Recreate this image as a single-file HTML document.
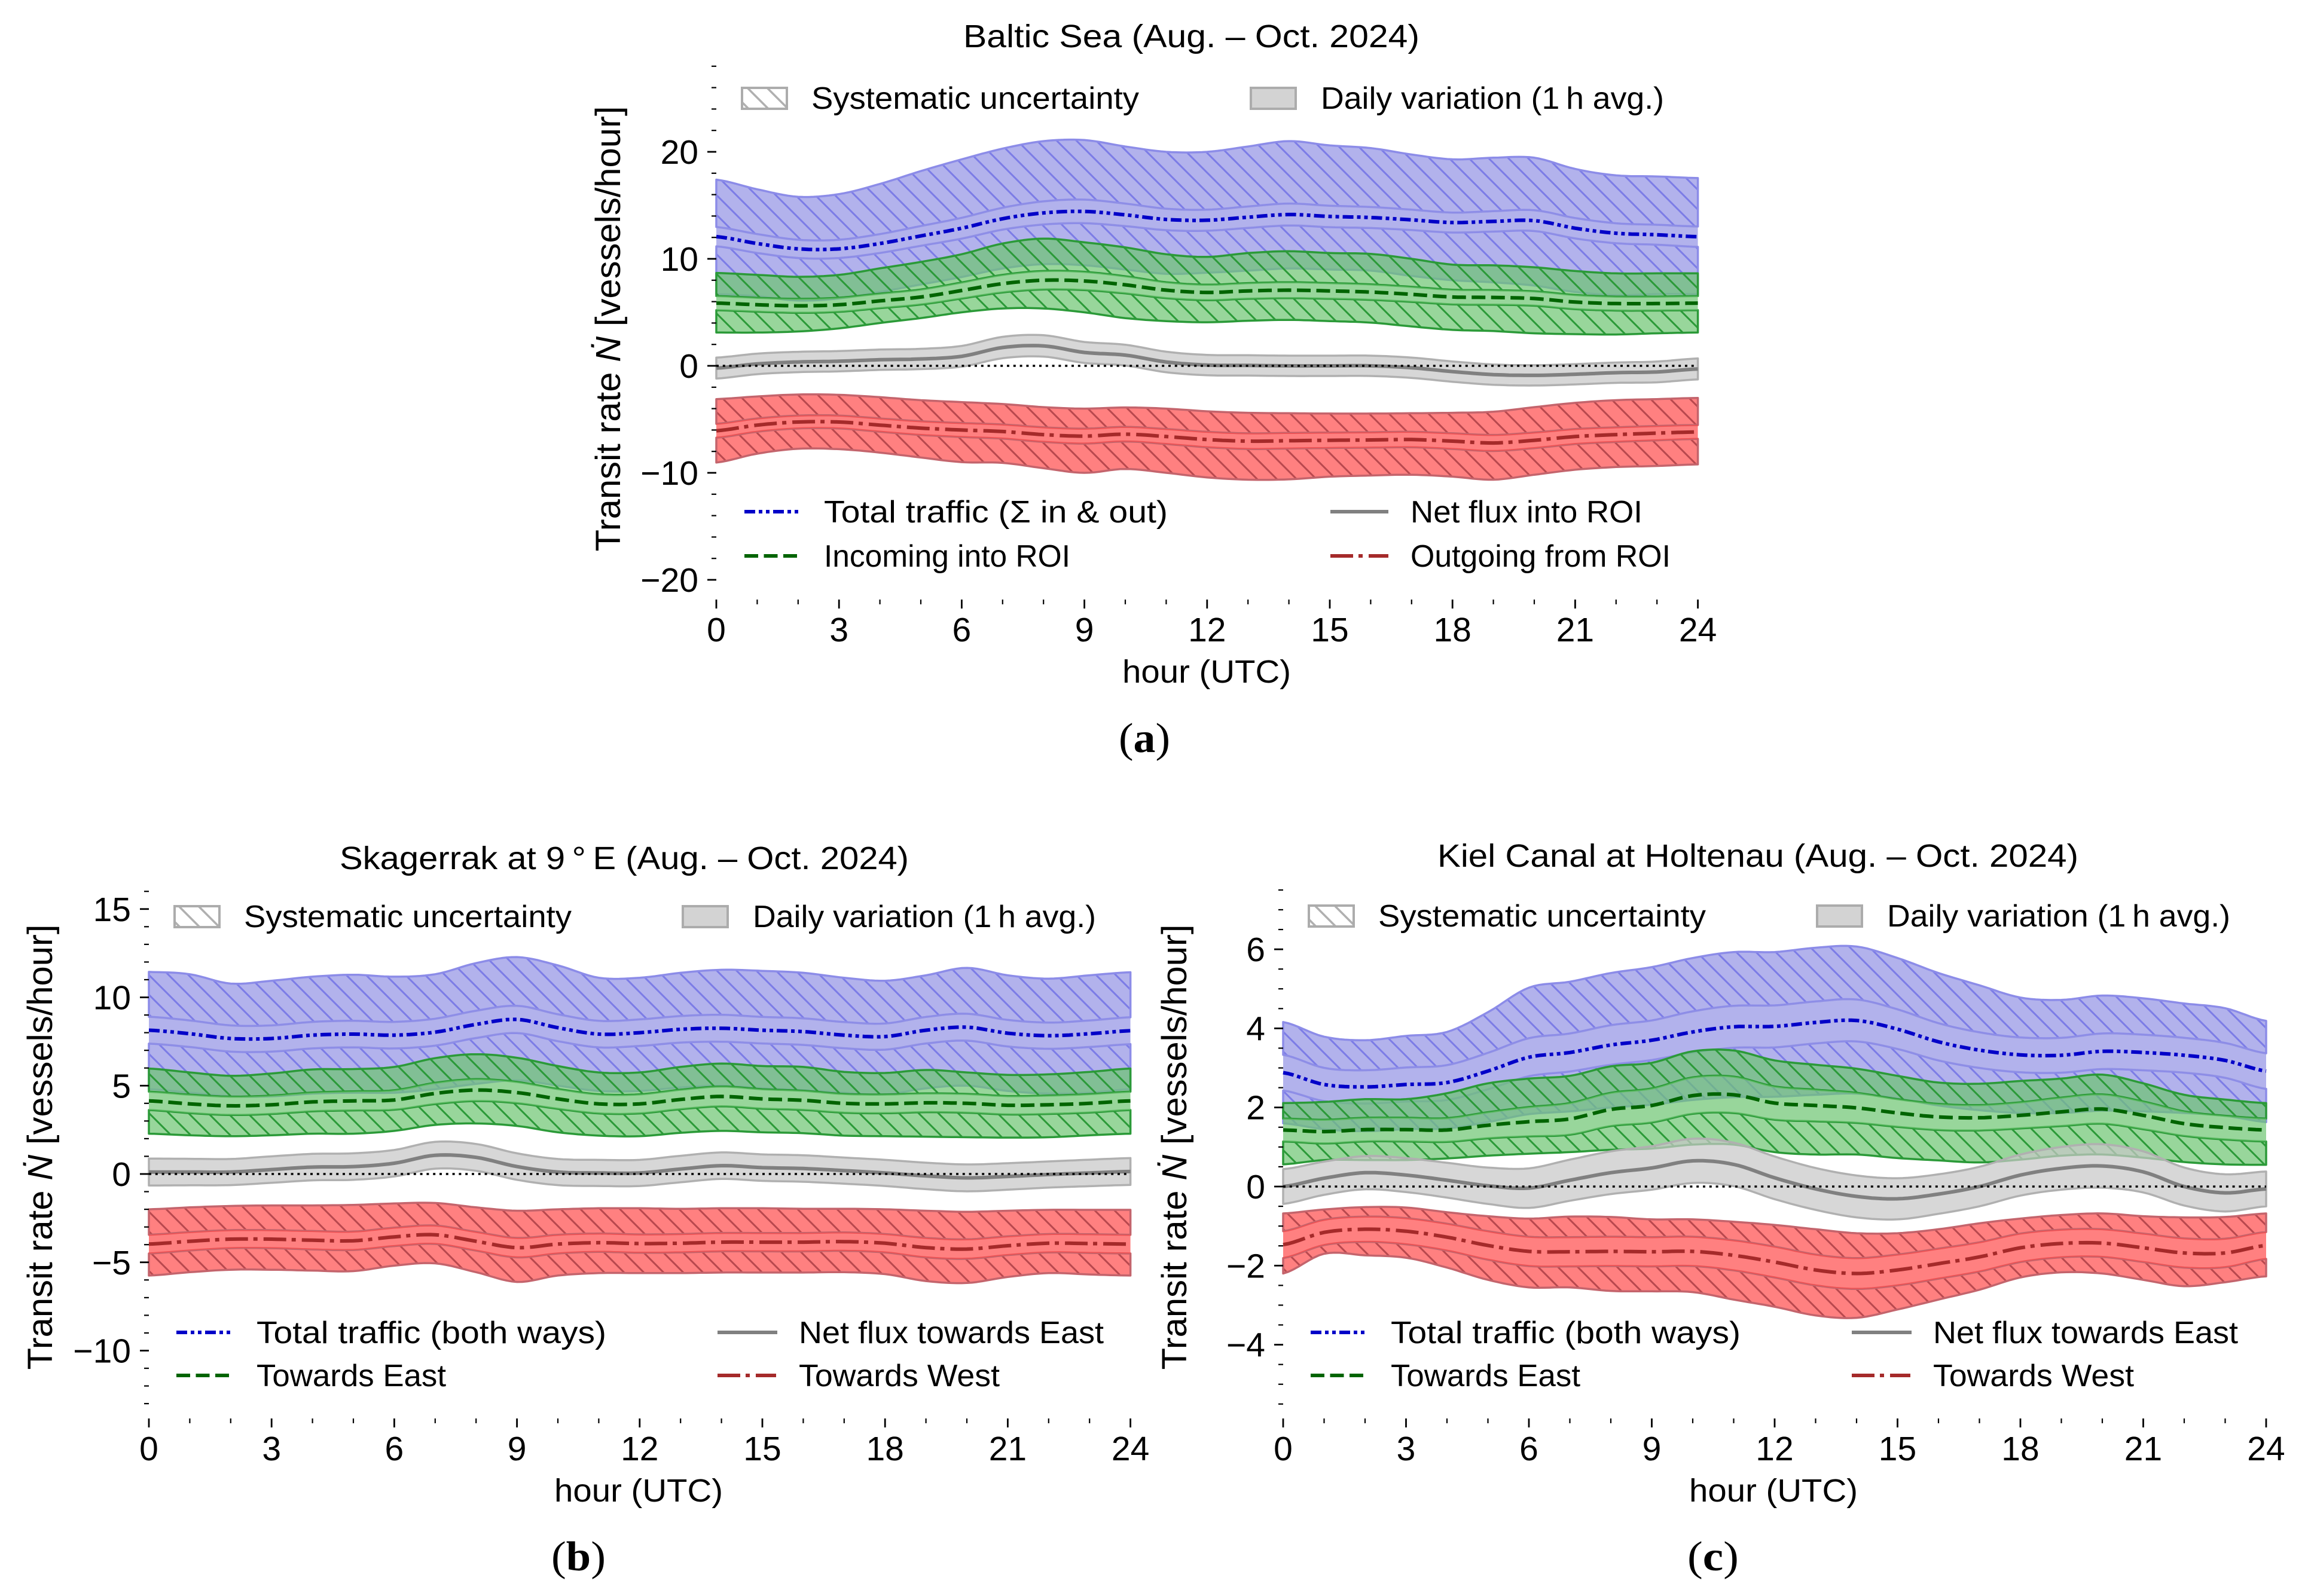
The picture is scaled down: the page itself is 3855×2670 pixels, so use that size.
<!DOCTYPE html>
<html lang="en">
<head>
<meta charset="utf-8">
<title>Transit rate charts</title>
<style>
html,body{margin:0;padding:0;background:#fff;}
svg{display:block;font-family:"Liberation Sans",sans-serif;}
</style>
</head>
<body>
<svg id="chart" xmlns="http://www.w3.org/2000/svg" width="3855" height="2670" viewBox="0 0 3855 2670">
<defs id="chart-defs"></defs>
</svg>
<script>
// ---- shared axis data ----
const xTickLabels = [0,3,6,9,12,15,18,21,24];
const hours = [0,1,2,3,4,5,6,7,8,9,10,11,12,13,14,15,16,17,18,19,20,21,22,23,24];
const aYTickLabels = [20,10,0,-10,-20];
const bYTickLabels = [15,10,5,0,-5,-10];
const cYTickLabels = [6,4,2,0,-2,-4];

// ---- panel a: Baltic Sea ----
const aTotalCenter = [12.07,11.43,10.93,10.93,11.43,12.14,12.86,13.75,14.29,14.43,14.11,13.68,13.61,13.89,14.14,13.96,13.86,13.64,13.39,13.5,13.57,12.86,12.39,12.25,12.07];
const aTotalDaily = [0.9,0.88,0.85,0.85,0.88,0.92,0.97,1.02,1.08,1.1,1.05,1.0,0.98,1.0,1.02,1.0,0.98,0.95,0.93,0.95,0.97,0.95,0.93,0.93,0.95];
const aTotalSysHigh = [17.4,16.5,15.8,16.05,17.0,18.2,19.3,20.3,21.0,21.1,20.5,20.0,20.0,20.5,21.0,20.6,20.35,19.75,19.3,19.45,19.45,18.4,17.8,17.7,17.55];
const aTotalSysLow = [6.7,6.5,6.1,6.3,6.9,7.6,8.3,9.1,9.5,9.4,9.0,8.6,8.7,8.9,9.1,9.0,8.9,8.4,8.0,7.8,7.5,6.9,6.6,6.7,6.7];
const aInCenter = [5.86,5.71,5.61,5.71,6.07,6.43,7.04,7.68,8.0,7.93,7.57,7.07,6.86,7.0,7.07,7.0,6.89,6.68,6.43,6.39,6.29,5.96,5.82,5.82,5.86];
const aInDaily = [0.66,0.65,0.65,0.66,0.68,0.7,0.75,0.82,0.86,0.85,0.8,0.74,0.72,0.73,0.74,0.73,0.72,0.7,0.68,0.68,0.67,0.66,0.65,0.65,0.66];
const aInSysHigh = [8.68,8.5,8.32,8.5,9.11,9.71,10.43,11.43,11.89,11.54,11.07,10.43,10.18,10.54,10.71,10.54,10.46,10.0,9.46,9.39,9.21,8.86,8.64,8.64,8.64];
const aInSysLow = [3.11,3.11,3.21,3.5,4.0,4.46,5.0,5.36,5.36,5.0,4.46,4.18,4.07,4.21,4.29,4.18,4.04,3.68,3.36,3.25,3.04,2.96,2.93,3.04,3.11];
const aNetCenter = [-0.21,0.18,0.36,0.43,0.57,0.64,0.89,1.71,1.86,1.25,1.0,0.36,0.07,0.04,0,0,0,-0.18,-0.54,-0.82,-0.89,-0.79,-0.64,-0.57,-0.29];
const aNetDaily = [0.98,0.96,0.95,0.95,0.95,0.95,0.97,1.0,1.0,0.98,0.97,0.96,0.95,0.95,0.95,0.95,0.95,0.95,0.95,0.95,0.95,0.95,0.95,0.97,0.98];
const aOutCenter = [-6.07,-5.54,-5.25,-5.25,-5.54,-5.82,-6.0,-6.14,-6.43,-6.57,-6.39,-6.61,-6.89,-7.04,-7.0,-6.96,-6.93,-6.89,-7.04,-7.21,-6.96,-6.61,-6.43,-6.29,-6.18];
const aOutDaily = [0.65,0.62,0.6,0.6,0.62,0.64,0.65,0.66,0.68,0.7,0.68,0.7,0.72,0.73,0.73,0.72,0.72,0.72,0.73,0.75,0.73,0.7,0.68,0.67,0.65];
const aOutSysHigh = [-3.11,-2.86,-2.68,-2.71,-2.93,-3.21,-3.39,-3.57,-3.86,-4.0,-3.89,-4.0,-4.25,-4.39,-4.43,-4.46,-4.46,-4.43,-4.39,-4.29,-3.86,-3.46,-3.21,-3.11,-3.0];
const aOutSysLow = [-9.04,-8.21,-7.75,-7.79,-8.11,-8.57,-9.0,-9.07,-9.57,-10.0,-9.64,-10.0,-10.43,-10.64,-10.61,-10.36,-10.25,-10.18,-10.36,-10.64,-10.18,-9.71,-9.46,-9.36,-9.21];

// ---- panel b: Skagerrak ----
const bTotalCenter = [8.14,7.94,7.67,7.67,7.86,7.92,7.86,8.03,8.47,8.75,8.28,7.92,8.0,8.19,8.25,8.14,8.06,7.86,7.78,8.14,8.31,7.97,7.83,7.94,8.11];
const bTotalDaily = [0.76,0.75,0.74,0.74,0.75,0.75,0.75,0.76,0.77,0.77,0.76,0.75,0.75,0.75,0.76,0.75,0.75,0.74,0.74,0.75,0.76,0.75,0.74,0.75,0.76];
const bTotalSysHigh = [11.44,11.31,10.78,10.94,11.17,11.28,11.17,11.31,11.94,12.28,11.81,11.11,11.11,11.39,11.56,11.5,11.39,11.11,10.94,11.25,11.67,11.25,11.06,11.25,11.42];
const bTotalSysLow = [4.8,4.6,4.4,4.4,4.55,4.6,4.6,4.8,5.1,5.3,5.0,4.7,4.7,4.9,5.0,4.85,4.75,4.6,4.5,4.85,5.0,4.7,4.55,4.6,4.8];
const bEastCenter = [4.14,3.97,3.86,3.92,4.08,4.14,4.19,4.56,4.75,4.61,4.25,3.97,3.97,4.22,4.39,4.25,4.17,4.0,3.97,4.03,4.0,3.89,3.92,4.0,4.14];
const bEastDaily = [0.52,0.52,0.52,0.52,0.53,0.54,0.55,0.6,0.62,0.6,0.56,0.54,0.54,0.55,0.56,0.55,0.54,0.53,0.53,0.53,0.53,0.52,0.52,0.52,0.52];
const bEastSysHigh = [5.97,5.75,5.56,5.69,5.92,5.94,6.06,6.56,6.78,6.58,6.11,5.75,5.75,6.06,6.25,6.11,6.06,5.78,5.72,5.89,5.75,5.61,5.64,5.78,5.97];
const bEastSysLow = [2.28,2.19,2.14,2.19,2.28,2.28,2.44,2.78,2.86,2.72,2.36,2.17,2.14,2.33,2.44,2.36,2.31,2.17,2.14,2.11,2.08,2.06,2.08,2.19,2.28];
const bNetCenter = [0.11,0.11,0.11,0.25,0.39,0.42,0.61,1.06,0.94,0.42,0.11,0.06,0.06,0.28,0.47,0.36,0.31,0.19,0.06,-0.11,-0.22,-0.14,-0.03,0.06,0.14];
const bNetDaily = [0.76,0.75,0.74,0.75,0.75,0.75,0.75,0.76,0.76,0.75,0.74,0.74,0.74,0.75,0.75,0.75,0.75,0.74,0.74,0.75,0.76,0.75,0.74,0.75,0.76];
const bWestCenter = [-3.97,-3.81,-3.69,-3.69,-3.75,-3.78,-3.56,-3.44,-3.81,-4.17,-3.97,-3.89,-3.94,-3.92,-3.86,-3.86,-3.86,-3.83,-3.92,-4.17,-4.25,-4.06,-3.92,-3.94,-3.97];
const bWestDaily = [0.53,0.52,0.51,0.51,0.52,0.52,0.52,0.52,0.53,0.55,0.53,0.52,0.52,0.52,0.52,0.52,0.52,0.52,0.52,0.55,0.55,0.53,0.52,0.53,0.53];
const bWestSysHigh = [-2.0,-1.89,-1.81,-1.78,-1.78,-1.75,-1.67,-1.64,-1.89,-2.08,-2.0,-1.94,-1.94,-1.97,-1.94,-1.94,-1.97,-1.97,-2.0,-2.08,-2.14,-2.08,-2.03,-2.03,-2.03];
const bWestSysLow = [-5.75,-5.56,-5.42,-5.42,-5.47,-5.5,-5.19,-5.06,-5.56,-6.11,-5.75,-5.61,-5.61,-5.61,-5.58,-5.58,-5.58,-5.56,-5.67,-6.06,-6.17,-5.83,-5.61,-5.69,-5.75];

// ---- panel c: Kiel Canal ----
const cTotalCenter = [2.88,2.58,2.52,2.58,2.63,2.92,3.27,3.39,3.58,3.70,3.91,4.04,4.05,4.15,4.20,3.98,3.66,3.45,3.33,3.32,3.42,3.39,3.32,3.19,2.92];
const cTotalDaily = [0.45,0.42,0.42,0.43,0.44,0.46,0.48,0.48,0.5,0.5,0.52,0.53,0.53,0.53,0.53,0.5,0.47,0.45,0.44,0.44,0.45,0.45,0.44,0.44,0.45];
const cTotalSysHigh = [4.16,3.79,3.70,3.81,3.91,4.41,5.03,5.18,5.40,5.55,5.78,5.93,5.93,6.04,6.07,5.78,5.40,5.09,4.78,4.72,4.83,4.76,4.63,4.51,4.19];
const cTotalSysLow = [1.6,1.45,1.4,1.45,1.47,1.63,1.83,1.9,2.0,2.07,2.19,2.26,2.27,2.32,2.35,2.23,2.05,1.93,1.86,1.86,1.92,1.9,1.86,1.79,1.63];
const cEastCenter = [1.43,1.39,1.44,1.44,1.43,1.55,1.64,1.71,1.95,2.05,2.30,2.32,2.11,2.05,1.99,1.86,1.76,1.74,1.80,1.89,1.96,1.80,1.59,1.49,1.43];
const cEastDaily = [0.29,0.3,0.3,0.3,0.3,0.33,0.37,0.4,0.42,0.43,0.46,0.46,0.42,0.4,0.38,0.35,0.33,0.32,0.33,0.36,0.37,0.35,0.31,0.3,0.29];
const cEastSysHigh = [2.11,2.14,2.21,2.21,2.36,2.61,2.73,2.80,3.04,3.13,3.42,3.44,3.19,3.08,2.98,2.80,2.63,2.60,2.67,2.73,2.83,2.61,2.32,2.20,2.11];
const cEastSysLow = [0.56,0.67,0.67,0.67,0.71,0.78,0.83,0.87,0.93,0.96,1.06,1.06,0.87,0.81,0.81,0.72,0.66,0.61,0.68,0.78,0.81,0.73,0.62,0.56,0.55];
const cNetCenter = [0,0.21,0.35,0.29,0.16,0.02,-0.04,0.16,0.35,0.47,0.65,0.56,0.22,-0.06,-0.25,-0.31,-0.19,0,0.29,0.46,0.52,0.37,0,-0.16,-0.06];
const cNetDaily = [0.44,0.42,0.42,0.43,0.44,0.46,0.5,0.52,0.54,0.55,0.56,0.55,0.54,0.53,0.53,0.52,0.5,0.5,0.52,0.54,0.55,0.52,0.48,0.47,0.44];
const cWestCenter = [-1.47,-1.16,-1.08,-1.13,-1.28,-1.49,-1.64,-1.65,-1.64,-1.65,-1.64,-1.74,-1.91,-2.11,-2.2,-2.11,-1.95,-1.78,-1.55,-1.44,-1.43,-1.55,-1.68,-1.68,-1.49];
const cWestDaily = [0.34,0.32,0.32,0.33,0.34,0.36,0.37,0.37,0.37,0.37,0.37,0.38,0.39,0.39,0.39,0.39,0.38,0.37,0.36,0.35,0.35,0.36,0.37,0.36,0.34];
const cWestSysHigh = [-0.68,-0.58,-0.52,-0.53,-0.65,-0.75,-0.81,-0.76,-0.77,-0.83,-0.83,-0.89,-0.97,-1.08,-1.18,-1.18,-1.08,-0.93,-0.81,-0.72,-0.68,-0.75,-0.78,-0.77,-0.68];
const cWestSysLow = [-2.2,-1.7,-1.74,-1.8,-2.05,-2.36,-2.55,-2.55,-2.64,-2.65,-2.67,-2.86,-3.04,-3.26,-3.32,-3.11,-2.86,-2.61,-2.3,-2.17,-2.2,-2.36,-2.52,-2.42,-2.27];

const NS = 'http://www.w3.org/2000/svg';
const svg = document.getElementById('chart');
const defs = document.getElementById('chart-defs');

function make(tag, attrs, parent) {
  const node = document.createElementNS(NS, tag);
  for (const key in attrs) node.setAttribute(key, attrs[key]);
  parent.appendChild(node);
  return node;
}

const hatchColors = {blue:'#7c7ce6', green:'#2b9a38', red:'#b8484e', gray:'#b0b0b0'};

function makeHatches(panelName, phase) {
  Object.keys(hatchColors).forEach(k => {
    const pat = make('pattern', {id:'hatch-' + k + '-' + panelName, patternUnits:'userSpaceOnUse', width:33, height:33, patternTransform:'translate(' + phase + ',0)'}, defs);
    make('path', {d:'M-4 -4L37 37M-4 29L4 37M29 -4L37 4', stroke:hatchColors[k], 'stroke-width':(k === 'gray' ? 3.6 : 3), fill:'none'}, pat);
  });
}

const styles = {
  blue:  {fill:'rgba(146,146,228,0.7)', edge:'#8c8ce8', line:'#0000c8', width:6, dash:'18 6 6 6 6 6'},
  green: {fill:'rgba(108,196,113,0.7)', edge:'#2b9a38', line:'#006400', width:6, dash:'23 9.5'},
  gray:  {fill:'rgba(200,200,200,0.72)', edge:'#b0b0b0', line:'#808080', width:6, dash:'none'},
  red:   {fill:'rgba(255,74,74,0.7)',   edge:'#c4646c', line:'#a52a2a', width:6, dash:'38 9 7 10'}
};

// Catmull-Rom resampling so the hourly readings draw as a smooth curve
function smooth(ys) {
  const out = [];
  for (let i = 0; i < ys.length - 1; i++) {
    const p0 = ys[Math.max(i - 1, 0)], p1 = ys[i], p2 = ys[i + 1], p3 = ys[Math.min(i + 2, ys.length - 1)];
    for (let s = 0; s < 8; s++) {
      const t = s / 8;
      out.push([hours[i] + t * (hours[i + 1] - hours[i]),
        0.5 * (2 * p1 + (p2 - p0) * t + (2 * p0 - 5 * p1 + 4 * p2 - p3) * t * t + (3 * p1 - p0 - 3 * p2 + p3) * t * t * t)]);
    }
  }
  out.push([hours[hours.length - 1], ys[ys.length - 1]]);
  return out;
}

function label(parent, name, str, x, y, size, opts) {
  const o = opts || {};
  const el = make('text', {x:x, y:y, 'font-size':size, fill:'#000'}, parent);
  
  
  if (o.anchor) el.setAttribute('text-anchor', o.anchor);
  if (o.len) { el.setAttribute('textLength', o.len); el.setAttribute('lengthAdjust', 'spacingAndGlyphs'); }
  el.textContent = str;
  return el;
}

function drawPanel(p) {
  makeHatches(p.name, p.hatchPhase);
  const g = make('g', {}, svg);
  
  
  const sx = h => p.x0 + h * p.pxPerHour;
  const sy = v => p.y0 - v * p.pxPerUnit;
  const pts = arr => arr.map(q => sx(q[0]).toFixed(1) + ',' + sy(q[1]).toFixed(1));

  p.series.forEach(s => {
    const st = styles[s.style];
    const hi = s.center.map((v, i) => v + s.daily[i]);
    const lo = s.center.map((v, i) => v - s.daily[i]);
    const hiPts = pts(smooth(hi)), loPts = pts(smooth(lo));
    if (s.sysHigh) {
      const upper = pts(smooth(s.sysHigh)).concat(hiPts.slice().reverse()).join(' ');
      const lower = loPts.concat(pts(smooth(s.sysLow)).reverse()).join(' ');
      [upper, lower].forEach(shape => {
        const fillEl = make('polygon', {points:shape, fill:st.fill, stroke:'none'}, g);
        
        
        const hatchEl = make('polygon', {points:shape, fill:'url(#hatch-' + s.style + '-' + p.name + ')', stroke:st.edge, 'stroke-width':3.5, 'stroke-linejoin':'round'}, g);
        
        
      });
      const inner = make('polygon', {points:hiPts.concat(loPts.slice().reverse()).join(' '), fill:st.fill, stroke:'none'}, g);
      
      
    } else {
      const inner = make('polygon', {points:hiPts.concat(loPts.slice().reverse()).join(' '), fill:st.fill, stroke:st.edge, 'stroke-width':3.5, 'stroke-linejoin':'round'}, g);
      
      
    }
    const line = make('polyline', {points:pts(smooth(s.center)).join(' '), fill:'none', stroke:st.line, 'stroke-width':st.width}, g);
    
    
    if (st.dash !== 'none') line.setAttribute('stroke-dasharray', st.dash);
  });

  const zero = make('line', {x1:sx(0), x2:sx(24), y1:sy(0), y2:sy(0), stroke:'#000', 'stroke-width':3.5, 'stroke-dasharray':'4 6.8'}, g);
  
  

  // y axis
  const nMinor = Math.round((p.yTop - p.yBottom) / p.yMinorStep);
  for (let i = 0; i <= nMinor; i++) {
    const v = p.yBottom + i * p.yMinorStep;
    if (p.yTicks.indexOf(v) >= 0) continue;
    const t = make('line', {x1:sx(0) - 8, x2:sx(0), y1:sy(v), y2:sy(v), stroke:'#000', 'stroke-width':2.2}, g);
    
    
  }
  p.yTicks.forEach(v => {
    const t = make('line', {x1:sx(0) - 15, x2:sx(0), y1:sy(v), y2:sy(v), stroke:'#000', 'stroke-width':2.8}, g);
    
    
    label(g, 'y-tick-label', String(v).replace('-', '\u2212'), sx(0) - 30, sy(v) + 20, 57, {anchor:'end'});
  });

  // x axis
  hours.forEach(h => {
    if (xTickLabels.indexOf(h) >= 0) return;
    const t = make('line', {x1:sx(h), x2:sx(h), y1:p.xAxisY, y2:p.xAxisY + 8, stroke:'#000', 'stroke-width':2.2}, g);
    
    
  });
  xTickLabels.forEach(h => {
    const t = make('line', {x1:sx(h), x2:sx(h), y1:p.xAxisY, y2:p.xAxisY + 15, stroke:'#000', 'stroke-width':2.8}, g);
    
    
    label(g, 'x-tick-label', String(h), sx(h), p.xAxisY + 70, 57, {anchor:'middle'});
  });

  label(g, 'x-axis-title', 'hour (UTC)', p.xTitleX, p.xAxisY + 139, 54, {anchor:'middle', len:282});
  label(g, 'chart-title', p.title, p.titleX, p.titleY, 54, {len:p.titleLen});

  // rotated y axis title
  const yt = make('text', {transform:'translate(' + p.yTitleX + ',' + p.yTitleY + ') rotate(-90)', 'font-size':58, 'text-anchor':'middle', textLength:745, lengthAdjust:'spacingAndGlyphs', fill:'#000'}, g);
  
  
  const t1 = make('tspan', {}, yt);
  t1.textContent = 'Transit rate ';
  const t2 = make('tspan', {'font-style':'italic'}, yt);
  t2.textContent = '\u1E44';
  const t3 = make('tspan', {}, yt);
  t3.textContent = ' [vessels/hour]';

  // legend: uncertainty swatches
  const L = p.legend;
  const swA = make('rect', {x:L.sw1X, y:L.swY, width:75, height:35, fill:'url(#hatch-gray-' + p.name + ')', stroke:'#acacac', 'stroke-width':4}, g);
  
  
  label(g, 'legend-systematic-label', 'Systematic uncertainty', L.sw1X + 116, L.swY + 35, 52, {len:548});
  const swB = make('rect', {x:L.sw2X, y:L.swY, width:75, height:35, fill:'#d3d3d3', stroke:'#acacac', 'stroke-width':4}, g);
  
  
  label(g, 'legend-daily-label', 'Daily variation (1\u2009h avg.)', L.sw2X + 117, L.swY + 35, 52, {len:574});

  // legend: line entries
  L.lines.forEach(e => {
    const st = styles[e.style];
    const s = make('line', {x1:e.x, x2:e.x + e.w, y1:e.y, y2:e.y, stroke:st.line, 'stroke-width':st.width}, g);
    
    
    if (st.dash !== 'none') s.setAttribute('stroke-dasharray', st.dash);
    label(g, 'legend-label-' + e.style, e.text, e.tx, e.y + 18, 52, {len:e.tlen});
  });

  // caption
  const cap = make('text', {x:p.capX, y:p.capY, 'font-size':70, fill:'#000', 'font-family':'"Liberation Serif",serif', textLength:p.capLen, lengthAdjust:'spacingAndGlyphs'}, g);
  
  
  const c1 = make('tspan', {}, cap);
  c1.textContent = '(';
  const c2 = make('tspan', {'font-weight':'bold'}, cap);
  c2.textContent = p.capLetter;
  const c3 = make('tspan', {}, cap);
  c3.textContent = ')';
}

drawPanel({
  name:'baltic', x0:1198, pxPerHour:68.4, y0:612, pxPerUnit:17.9, hatchPhase:14,
  yTicks:aYTickLabels, yTop:28, yBottom:-20, yMinorStep:2, xAxisY:1003,
  title:'Baltic Sea (Aug. \u2013 Oct. 2024)', titleX:1611, titleY:79, titleLen:763,
  xTitleX:2018, yTitleX:1037, yTitleY:550, capX:1871, capY:1258, capLen:86, capLetter:'a',
  series:[
    {id:'total-traffic', style:'blue', center:aTotalCenter, daily:aTotalDaily, sysHigh:aTotalSysHigh, sysLow:aTotalSysLow},
    {id:'incoming', style:'green', center:aInCenter, daily:aInDaily, sysHigh:aInSysHigh, sysLow:aInSysLow},
    {id:'net-flux', style:'gray', center:aNetCenter, daily:aNetDaily},
    {id:'outgoing', style:'red', center:aOutCenter, daily:aOutDaily, sysHigh:aOutSysHigh, sysLow:aOutSysLow}
  ],
  legend:{sw1X:1241, sw2X:2092, swY:147, lines:[
    {style:'blue', x:1245, w:91, y:856, text:'Total traffic (\u03A3 in & out)', tx:1378, tlen:575},
    {style:'green', x:1245, w:91, y:930, text:'Incoming into ROI', tx:1378, tlen:412},
    {style:'gray', x:2225, w:97, y:856, text:'Net flux into ROI', tx:2359, tlen:388},
    {style:'red', x:2225, w:97, y:930, text:'Outgoing from ROI', tx:2359, tlen:435}
  ]}
});

drawPanel({
  name:'skagerrak', x0:249, pxPerHour:68.4, y0:1964, pxPerUnit:29.55, hatchPhase:4,
  yTicks:bYTickLabels, yTop:16, yBottom:-13, yMinorStep:1, xAxisY:2373,
  title:'Skagerrak at 9\u2009\u00B0\u2009E (Aug. \u2013 Oct. 2024)', titleX:568, titleY:1454, titleLen:952,
  xTitleX:1068, yTitleX:87, yTitleY:1919, capX:922, capY:2627, capLen:91, capLetter:'b',
  series:[
    {id:'total-traffic', style:'blue', center:bTotalCenter, daily:bTotalDaily, sysHigh:bTotalSysHigh, sysLow:bTotalSysLow},
    {id:'towards-east', style:'green', center:bEastCenter, daily:bEastDaily, sysHigh:bEastSysHigh, sysLow:bEastSysLow},
    {id:'net-flux', style:'gray', center:bNetCenter, daily:bNetDaily},
    {id:'towards-west', style:'red', center:bWestCenter, daily:bWestDaily, sysHigh:bWestSysHigh, sysLow:bWestSysLow}
  ],
  legend:{sw1X:292, sw2X:1142, swY:1516, lines:[
    {style:'blue', x:295, w:93, y:2229, text:'Total traffic (both ways)', tx:429, tlen:585},
    {style:'green', x:295, w:91, y:2301, text:'Towards East', tx:429, tlen:317},
    {style:'gray', x:1200, w:100, y:2229, text:'Net flux towards East', tx:1336, tlen:510},
    {style:'red', x:1200, w:98, y:2301, text:'Towards West', tx:1336, tlen:336}
  ]}
});

drawPanel({
  name:'kiel-canal', x0:2146, pxPerHour:68.5, y0:1985, pxPerUnit:66.15, hatchPhase:24,
  yTicks:cYTickLabels, yTop:7.5, yBottom:-5.5, yMinorStep:0.5, xAxisY:2373,
  title:'Kiel Canal at Holtenau (Aug. \u2013 Oct. 2024)', titleX:2404, titleY:1450, titleLen:1072,
  xTitleX:2966, yTitleX:1984, yTitleY:1919, capX:2822, capY:2627, capLen:86, capLetter:'c',
  series:[
    {id:'total-traffic', style:'blue', center:cTotalCenter, daily:cTotalDaily, sysHigh:cTotalSysHigh, sysLow:cTotalSysLow},
    {id:'towards-east', style:'green', center:cEastCenter, daily:cEastDaily, sysHigh:cEastSysHigh, sysLow:cEastSysLow},
    {id:'net-flux', style:'gray', center:cNetCenter, daily:cNetDaily},
    {id:'towards-west', style:'red', center:cWestCenter, daily:cWestDaily, sysHigh:cWestSysHigh, sysLow:cWestSysLow}
  ],
  legend:{sw1X:2189, sw2X:3039, swY:1515, lines:[
    {style:'blue', x:2192, w:93, y:2229, text:'Total traffic (both ways)', tx:2326, tlen:585},
    {style:'green', x:2192, w:91, y:2301, text:'Towards East', tx:2326, tlen:317},
    {style:'gray', x:3097, w:100, y:2229, text:'Net flux towards East', tx:3233, tlen:510},
    {style:'red', x:3097, w:98, y:2301, text:'Towards West', tx:3233, tlen:336}
  ]}
});
</script>
</body>
</html>
